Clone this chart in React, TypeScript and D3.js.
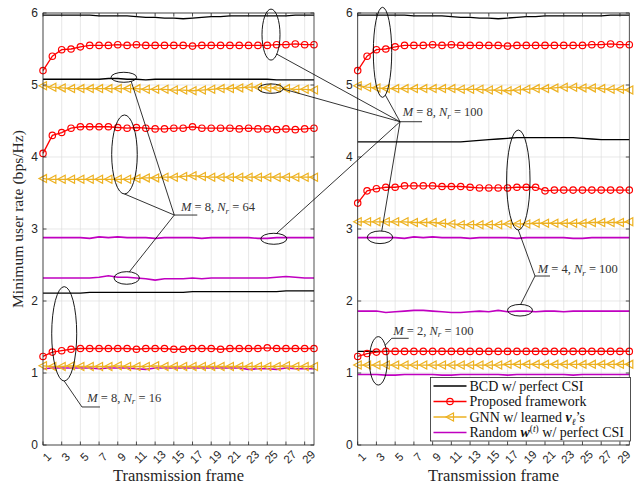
import React, { useEffect, useRef } from 'react';
import * as d3 from 'd3';

const frames = [1, 2, 3, 4, 5, 6, 7, 8, 9, 10, 11, 12, 13, 14, 15, 16, 17, 18, 19, 20, 21, 22, 23, 24, 25, 26, 27, 28, 29, 30];
const xTicks = [1, 3, 5, 7, 9, 11, 13, 15, 17, 19, 21, 23, 25, 27, 29];
const yTicks = [0, 1, 2, 3, 4, 5, 6];

// M = 8, N_r = 100 (shown in both panels)
const bcdM8N100 = [5.97, 5.97, 5.97, 5.97, 5.97, 5.97, 5.96, 5.96, 5.96, 5.96, 5.95, 5.94, 5.94, 5.93, 5.93, 5.92, 5.93, 5.94, 5.95, 5.95, 5.96, 5.96, 5.96, 5.96, 5.96, 5.96, 5.96, 5.97, 5.97, 5.97];
const propM8N100 = [5.20, 5.40, 5.49, 5.50, 5.53, 5.55, 5.55, 5.55, 5.56, 5.55, 5.56, 5.55, 5.55, 5.55, 5.55, 5.55, 5.54, 5.55, 5.55, 5.55, 5.55, 5.55, 5.55, 5.55, 5.55, 5.56, 5.56, 5.57, 5.56, 5.56];
const gnnM8N100 = [4.99, 4.97, 4.96, 4.95, 4.95, 4.95, 4.95, 4.95, 4.95, 4.95, 4.95, 4.94, 4.94, 4.94, 4.93, 4.93, 4.92, 4.93, 4.94, 4.95, 4.95, 4.96, 4.97, 4.97, 4.96, 4.96, 4.95, 4.94, 4.94, 4.93];
const rndM8N100 = [2.88, 2.88, 2.88, 2.88, 2.88, 2.87, 2.89, 2.88, 2.89, 2.88, 2.88, 2.88, 2.87, 2.88, 2.88, 2.88, 2.88, 2.87, 2.88, 2.88, 2.88, 2.88, 2.88, 2.87, 2.87, 2.88, 2.88, 2.88, 2.88, 2.88];

// M = 8, N_r = 64 (left)
const bcdM8N64 = [5.08, 5.08, 5.08, 5.08, 5.08, 5.08, 5.08, 5.09, 5.09, 5.08, 5.08, 5.07, 5.08, 5.08, 5.08, 5.08, 5.08, 5.08, 5.08, 5.08, 5.08, 5.08, 5.08, 5.08, 5.08, 5.07, 5.07, 5.07, 5.07, 5.07];
const propM8N64 = [4.05, 4.30, 4.34, 4.40, 4.42, 4.42, 4.42, 4.42, 4.41, 4.40, 4.41, 4.40, 4.39, 4.39, 4.40, 4.40, 4.42, 4.40, 4.40, 4.40, 4.40, 4.39, 4.40, 4.39, 4.39, 4.38, 4.39, 4.38, 4.39, 4.40];
const gnnM8N64 = [3.70, 3.69, 3.69, 3.69, 3.69, 3.69, 3.69, 3.69, 3.69, 3.69, 3.70, 3.71, 3.71, 3.72, 3.72, 3.73, 3.74, 3.73, 3.72, 3.72, 3.72, 3.72, 3.72, 3.72, 3.72, 3.72, 3.72, 3.72, 3.72, 3.72];
const rndM8N64 = [2.32, 2.32, 2.32, 2.32, 2.32, 2.32, 2.33, 2.35, 2.33, 2.33, 2.32, 2.31, 2.29, 2.31, 2.31, 2.31, 2.32, 2.31, 2.32, 2.32, 2.32, 2.32, 2.32, 2.32, 2.32, 2.33, 2.34, 2.33, 2.32, 2.32];

// M = 8, N_r = 16 (left)
const bcdM8N16 = [2.11, 2.11, 2.11, 2.11, 2.11, 2.12, 2.12, 2.12, 2.12, 2.12, 2.12, 2.12, 2.12, 2.12, 2.12, 2.12, 2.13, 2.13, 2.13, 2.13, 2.13, 2.13, 2.13, 2.13, 2.13, 2.13, 2.14, 2.14, 2.14, 2.14];
const propM8N16 = [1.23, 1.29, 1.31, 1.33, 1.34, 1.34, 1.34, 1.34, 1.34, 1.34, 1.33, 1.34, 1.34, 1.34, 1.33, 1.33, 1.34, 1.34, 1.34, 1.33, 1.34, 1.34, 1.34, 1.34, 1.35, 1.34, 1.34, 1.34, 1.34, 1.34];
const gnnM8N16 = [1.10, 1.09, 1.09, 1.10, 1.09, 1.09, 1.09, 1.09, 1.10, 1.09, 1.09, 1.09, 1.10, 1.09, 1.09, 1.09, 1.09, 1.09, 1.09, 1.09, 1.09, 1.09, 1.09, 1.09, 1.09, 1.09, 1.10, 1.09, 1.09, 1.09];
const rndM8N16 = [1.06, 1.07, 1.07, 1.07, 1.07, 1.07, 1.06, 1.07, 1.07, 1.07, 1.06, 1.05, 1.07, 1.07, 1.07, 1.07, 1.07, 1.07, 1.07, 1.07, 1.07, 1.07, 1.05, 1.06, 1.06, 1.05, 1.07, 1.06, 1.06, 1.06];

// M = 4, N_r = 100 (right)
const bcdM4N100 = [4.21, 4.21, 4.21, 4.21, 4.21, 4.21, 4.21, 4.21, 4.21, 4.21, 4.21, 4.21, 4.22, 4.23, 4.24, 4.25, 4.26, 4.27, 4.27, 4.27, 4.27, 4.27, 4.27, 4.27, 4.26, 4.25, 4.24, 4.24, 4.24, 4.24];
const propM4N100 = [3.36, 3.53, 3.56, 3.58, 3.58, 3.60, 3.60, 3.60, 3.60, 3.59, 3.59, 3.59, 3.58, 3.57, 3.57, 3.57, 3.57, 3.58, 3.58, 3.58, 3.53, 3.54, 3.54, 3.54, 3.54, 3.54, 3.54, 3.54, 3.54, 3.54];
const gnnM4N100 = [3.10, 3.10, 3.10, 3.10, 3.10, 3.10, 3.09, 3.09, 3.09, 3.08, 3.07, 3.06, 3.06, 3.06, 3.06, 3.06, 3.07, 3.07, 3.07, 3.08, 3.08, 3.08, 3.08, 3.08, 3.08, 3.09, 3.09, 3.09, 3.09, 3.10];
const rndM4N100 = [1.86, 1.86, 1.86, 1.84, 1.85, 1.86, 1.87, 1.87, 1.86, 1.85, 1.84, 1.84, 1.85, 1.86, 1.85, 1.87, 1.85, 1.86, 1.86, 1.85, 1.86, 1.86, 1.85, 1.86, 1.86, 1.86, 1.86, 1.86, 1.86, 1.86];

// M = 2, N_r = 100 (right)
const bcdM2N100 = [1.30, 1.30, 1.30, 1.30, 1.30, 1.30, 1.30, 1.30, 1.30, 1.30, 1.30, 1.30, 1.30, 1.30, 1.30, 1.30, 1.30, 1.30, 1.30, 1.30, 1.30, 1.30, 1.30, 1.30, 1.30, 1.30, 1.30, 1.30, 1.30, 1.30];
const propM2N100 = [1.23, 1.27, 1.29, 1.30, 1.30, 1.30, 1.30, 1.30, 1.30, 1.30, 1.30, 1.30, 1.30, 1.30, 1.30, 1.30, 1.30, 1.30, 1.30, 1.30, 1.30, 1.30, 1.30, 1.30, 1.30, 1.30, 1.30, 1.30, 1.30, 1.30];
const gnnM2N100 = [1.11, 1.11, 1.11, 1.11, 1.11, 1.11, 1.11, 1.11, 1.11, 1.11, 1.11, 1.11, 1.11, 1.11, 1.11, 1.11, 1.12, 1.12, 1.12, 1.12, 1.12, 1.12, 1.12, 1.12, 1.12, 1.12, 1.12, 1.12, 1.12, 1.12];
const rndM2N100 = [0.98, 0.98, 0.98, 0.97, 0.97, 0.98, 0.98, 0.98, 0.98, 0.97, 0.97, 0.98, 0.98, 0.98, 0.98, 0.98, 0.97, 0.98, 0.98, 0.98, 0.98, 0.98, 0.98, 0.97, 0.98, 0.98, 0.98, 0.98, 0.98, 0.98];

const legendLabels = ['BCD w/ perfect CSI', 'Proposed framework', 'GNN w/ learned', 'Random'];

const COLORS = { bcd: '#000000', prop: '#ff0000', gnn: '#edb120', rnd: '#c000c0' };
const SERIF = "'Times New Roman', 'Liberation Serif', Times, serif";
const SANS = "'Liberation Sans', Arial, Helvetica, sans-serif";
const AXIS = '#262626';

const panels = [
  {
    left: 43, right: 314,
    series: [
      ['bcd', bcdM8N100], ['bcd', bcdM8N64], ['bcd', bcdM8N16],
      ['rnd', rndM8N100], ['rnd', rndM8N64], ['rnd', rndM8N16],
      ['gnn', gnnM8N100], ['gnn', gnnM8N64], ['gnn', gnnM8N16],
      ['prop', propM8N100], ['prop', propM8N64], ['prop', propM8N16],
    ],
  },
  {
    left: 357.7, right: 629.3,
    series: [
      ['bcd', bcdM8N100], ['bcd', bcdM4N100], ['bcd', bcdM2N100],
      ['rnd', rndM8N100], ['rnd', rndM4N100], ['rnd', rndM2N100],
      ['gnn', gnnM8N100], ['gnn', gnnM4N100], ['gnn', gnnM2N100],
      ['prop', propM8N100], ['prop', propM4N100], ['prop', propM2N100],
    ],
  },
];

// callouts: hub in (panel, frame, value), ellipses in data units, radii in px, last = attach angle
const callouts = [
  { m: '8', nr: '64', hub: [0, 15.05, 3.194], tail: 23, dx: 6.7, dy: -4,
    ellipses: [[0, 9.72, 4.035, 12.8, 39.5, 90], [0, 9.65, 5.107, 12.8, 5, 55], [0, 9.96, 2.32, 12.7, 6.3, -78]] },
  { m: '8', nr: '16', hub: [0, 5.17, 0.528], tail: 18, dx: 5.3, dy: -5,
    ellipses: [[0, 3.27, 1.544, 12.5, 47.2, 90]] },
  { m: '8', nr: '100', hub: [1, 5.52, 4.49], tail: 22, dx: 2.7, dy: -5.5,
    ellipses: [[0, 25.4, 5.70, 9, 25.5, 50], [0, 25.38, 4.95, 12.5, 4.7, 5], [0, 25.7, 2.864, 13, 5.5, -78],
      [1, 3.65, 5.454, 9.2, 45, 72], [1, 3.38, 2.885, 12.7, 6.3, -82]] },
  { m: '4', nr: '100', hub: [1, 19.93, 2.347], tail: 15, dx: 2.7, dy: -3,
    ellipses: [[1, 18.15, 3.68, 11.7, 50, 90], [1, 18.33, 1.872, 12.5, 5.8, -87]] },
  { m: '2', nr: '100', hub: [1, 4.63, 1.482], tail: 17, dx: 1.6, dy: -3.3,
    ellipses: [[1, 3.2, 1.169, 9, 24.2, -40]] },
];

const App = () => {
  const svgRef = useRef(null);
  const width = 634;
  const height = 485;
  const top = 13;
  const bottom = 445;

  useEffect(() => {
    const svg = d3.select(svgRef.current);
    svg.selectAll('*').remove();

    const y = d3.scaleLinear().domain([0, 6]).range([bottom, top]);
    const xs = panels.map(p => d3.scaleLinear().domain([1, 30]).range([p.left, p.right]));

    const triangle = 'M-4,0L3.5,-4L3.5,4Z';

    panels.forEach((p, i) => {
      const x = xs[i];
      const g = svg.append('g');

      // grid
      g.selectAll('.gx').data(xTicks).enter().append('line')
        .attr('x1', d => x(d)).attr('x2', d => x(d))
        .attr('y1', top).attr('y2', bottom)
        .attr('stroke', '#dedede').attr('stroke-width', 0.7);
      g.selectAll('.gy').data(yTicks).enter().append('line')
        .attr('x1', p.left).attr('x2', p.right)
        .attr('y1', d => y(d)).attr('y2', d => y(d))
        .attr('stroke', '#dedede').attr('stroke-width', 0.7);

      const line = d3.line().x((d, j) => x(frames[j])).y(d => y(d));

      p.series.forEach(([kind, vals]) => {
        const col = COLORS[kind];
        g.append('path')
          .datum(vals)
          .attr('d', line)
          .attr('fill', 'none')
          .attr('stroke', col)
          .attr('stroke-width', kind === 'rnd' ? 1.6 : 1.3);

        if (kind === 'prop') {
          g.selectAll(null).data(vals).enter().append('circle')
            .attr('cx', (d, j) => x(frames[j])).attr('cy', d => y(d))
            .attr('r', 3.2).attr('fill', 'none')
            .attr('stroke', col).attr('stroke-width', 1.2);
        }
        if (kind === 'gnn') {
          g.selectAll(null).data(vals).enter().append('path')
            .attr('d', triangle)
            .attr('transform', (d, j) => `translate(${x(frames[j])},${y(d)})`)
            .attr('fill', 'none')
            .attr('stroke', col).attr('stroke-width', 1.2);
        }
      });

      // axes box + ticks
      g.append('rect')
        .attr('x', p.left).attr('y', top)
        .attr('width', p.right - p.left).attr('height', bottom - top)
        .attr('fill', 'none').attr('stroke', AXIS).attr('stroke-width', 0.8);

      xTicks.forEach(t => {
        g.append('line').attr('x1', x(t)).attr('x2', x(t)).attr('y1', bottom).attr('y2', bottom - 3.5)
          .attr('stroke', AXIS).attr('stroke-width', 0.8);
        g.append('line').attr('x1', x(t)).attr('x2', x(t)).attr('y1', top).attr('y2', top + 3.5)
          .attr('stroke', AXIS).attr('stroke-width', 0.8);
        g.append('text')
          .attr('transform', `translate(${x(t) + 4},${bottom + 12}) rotate(-45)`)
          .attr('text-anchor', 'middle')
          .attr('dominant-baseline', 'central')
          .attr('font-family', SANS).attr('font-size', 11.5)
          .attr('fill', AXIS)
          .text(t);
      });
      yTicks.forEach(t => {
        g.append('line').attr('x1', p.left).attr('x2', p.left + 3.5).attr('y1', y(t)).attr('y2', y(t))
          .attr('stroke', AXIS).attr('stroke-width', 0.8);
        g.append('line').attr('x1', p.right).attr('x2', p.right - 3.5).attr('y1', y(t)).attr('y2', y(t))
          .attr('stroke', AXIS).attr('stroke-width', 0.8);
        g.append('text')
          .attr('x', p.left - 5).attr('y', y(t))
          .attr('text-anchor', 'end').attr('dominant-baseline', 'central')
          .attr('font-family', SANS).attr('font-size', 12)
          .attr('fill', AXIS)
          .text(t);
      });

      // x label
      g.append('text')
        .attr('x', (p.left + p.right) / 2).attr('y', 481)
        .attr('text-anchor', 'middle')
        .attr('font-family', SERIF).attr('font-size', 16.5)
        .attr('fill', AXIS)
        .text('Transmission frame');
    });

    // y label
    svg.append('text')
      .attr('transform', `translate(17,219) rotate(-90)`)
      .attr('text-anchor', 'middle').attr('dominant-baseline', 'central')
      .attr('font-family', SERIF).attr('font-size', 15.6)
      .attr('fill', AXIS)
      .text('Minimum user rate (bps/Hz)');

    // callouts
    const ann = svg.append('g');
    callouts.forEach(c => {
      const hx = xs[c.hub[0]](c.hub[1]);
      const hy = y(c.hub[2]);
      c.ellipses.forEach(([pi, f, v, rx, ry, at]) => {
        const cx = xs[pi](f);
        const cy = y(v);
        ann.append('ellipse')
          .attr('cx', cx).attr('cy', cy).attr('rx', rx).attr('ry', ry)
          .attr('fill', 'none').attr('stroke', '#000').attr('stroke-width', 0.9);
        const a = at * Math.PI / 180;
        ann.append('line')
          .attr('x1', cx + rx * Math.cos(a)).attr('y1', cy + ry * Math.sin(a))
          .attr('x2', hx).attr('y2', hy)
          .attr('stroke', '#000').attr('stroke-width', 0.8);
      });
      ann.append('line')
        .attr('x1', hx).attr('x2', hx + c.tail).attr('y1', hy).attr('y2', hy)
        .attr('stroke', '#000').attr('stroke-width', 0.8);
      const t = ann.append('text')
        .attr('x', hx + c.dx).attr('y', hy + c.dy)
        .attr('font-family', SERIF).attr('font-size', 12.5)
        .attr('fill', '#333');
      t.append('tspan').attr('font-style', 'italic').text('M');
      t.append('tspan').text(` = ${c.m}, `);
      t.append('tspan').attr('font-style', 'italic').text('N');
      t.append('tspan').attr('dy', 2.5).attr('font-style', 'italic').attr('font-size', 9).text('r');
      t.append('tspan').attr('dy', -2.5).text(` = ${c.nr}`);
    });

    // legend
    const lg = svg.append('g');
    const lx = 430.5, ly = 377.5, lw = 200, lh = 63.5;
    lg.append('rect').attr('x', lx).attr('y', ly).attr('width', lw).attr('height', lh)
      .attr('fill', '#fff').attr('stroke', AXIS).attr('stroke-width', 0.8);
    const kinds = ['bcd', 'prop', 'gnn', 'rnd'];
    kinds.forEach((k, i) => {
      const ry = ly + 8.5 + i * 15.5;
      const col = COLORS[k];
      lg.append('line').attr('x1', lx + 3).attr('x2', lx + 36).attr('y1', ry).attr('y2', ry)
        .attr('stroke', col).attr('stroke-width', k === 'rnd' ? 1.6 : 1.3);
      if (k === 'prop') {
        lg.append('circle').attr('cx', lx + 19.5).attr('cy', ry).attr('r', 3.2)
          .attr('fill', 'none').attr('stroke', col).attr('stroke-width', 1.2);
      }
      if (k === 'gnn') {
        lg.append('path').attr('d', triangle).attr('transform', `translate(${lx + 19.5},${ry})`)
          .attr('fill', 'none').attr('stroke', col).attr('stroke-width', 1.2);
      }
      const t = lg.append('text').attr('x', lx + 39).attr('y', ry + 4.5)
        .attr('font-family', SERIF).attr('font-size', 14).attr('fill', '#111');
      if (k === 'gnn') {
        t.append('tspan').text(legendLabels[i] + ' ');
        t.append('tspan').attr('font-weight', 'bold').attr('font-style', 'italic').text('v');
        t.append('tspan').attr('dy', 3).attr('font-size', 9.5).attr('font-style', 'italic').text('ℓ');
        t.append('tspan').attr('dy', -3).text('’s');
      } else if (k === 'rnd') {
        t.append('tspan').text(legendLabels[i] + ' ');
        t.append('tspan').attr('font-weight', 'bold').attr('font-style', 'italic').text('w');
        t.append('tspan').attr('dy', -5).attr('font-size', 9.5).text('(');
        t.append('tspan').attr('font-size', 9.5).attr('font-style', 'italic').text('t');
        t.append('tspan').attr('font-size', 9.5).text(')');
        t.append('tspan').attr('dy', 5).text(' w/ perfect CSI');
      } else {
        t.text(legendLabels[i]);
      }
    });
  }, []);

  return (
    <svg
      ref={svgRef}
      width={width}
      height={height}
      style={{ position: 'absolute', left: 0, top: 0, background: '#fff' }}
    />
  );
};

export default App;
